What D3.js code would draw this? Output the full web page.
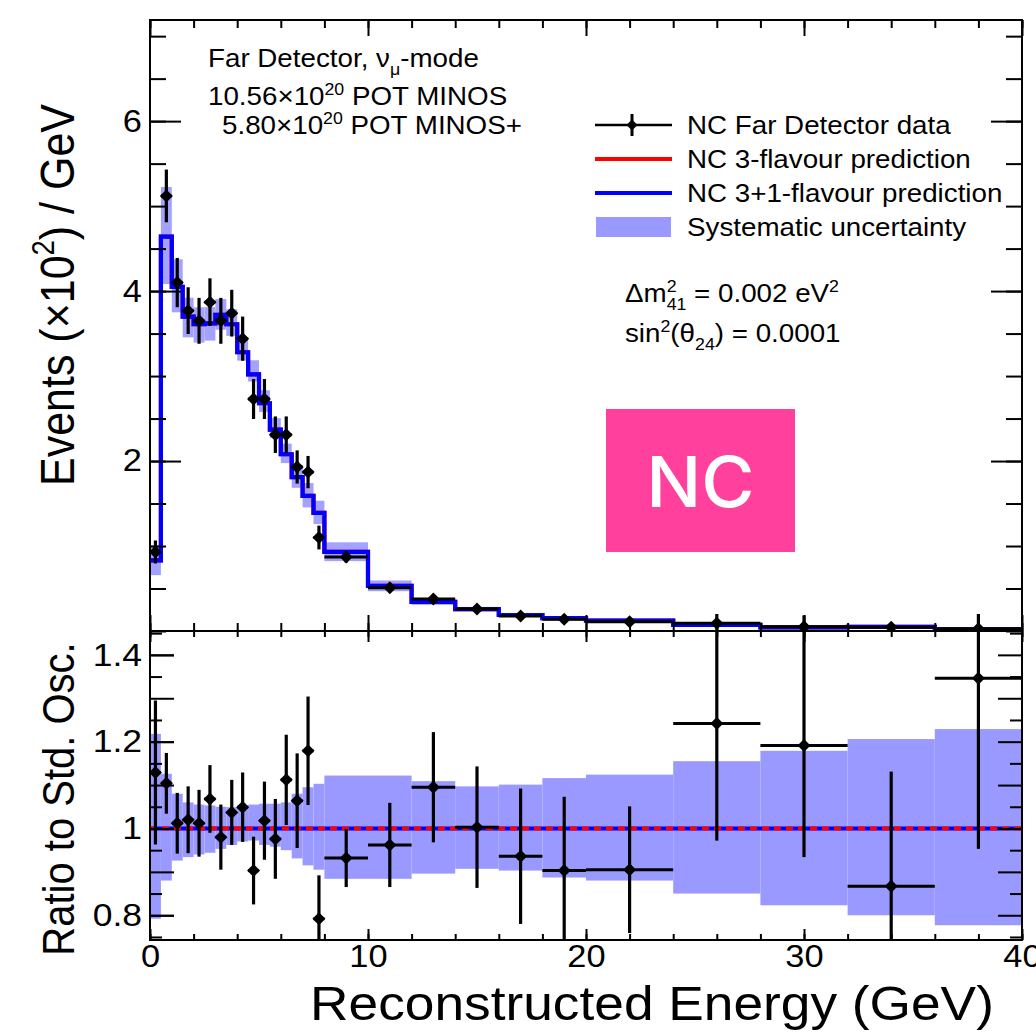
<!DOCTYPE html>
<html>
<head>
<meta charset="utf-8">
<script src="https://cdn.jsdelivr.net/npm/d3@7"></script>
<style>
  html, body { margin: 0; padding: 0; background: #fff; }
  svg { display: block; }
  text { font-family: "Liberation Sans", Arial, Helvetica, sans-serif; fill: #000; }
</style>
</head>
<body>
<svg id="chart" width="1036" height="1034"></svg>
<script>
// ---- Binning (reconstructed energy, GeV) ----
const binEdges = [0, 0.5, 1, 1.5, 2, 2.5, 3, 3.5, 4, 4.5, 5, 5.5, 6, 6.5, 7, 7.5, 8,
                  10, 12, 14, 16, 18, 20, 24, 28, 32, 36, 40];

// ---- NC Far Detector data, events (x10^2) / GeV ----
const dataValues = [0.93, 5.12, 4.10, 3.77, 3.65, 3.87, 3.65, 3.74, 3.44, 2.73, 2.73, 2.31, 2.31, 1.93, 1.87, 1.10,
                    0.87, 0.51, 0.376, 0.259, 0.176, 0.137, 0.11, 0.09, 0.05, 0.043, 0.027];
const dataErrors = [0.135, 0.31, 0.29, 0.275, 0.27, 0.28, 0.27, 0.275, 0.26, 0.235, 0.235, 0.215, 0.215, 0.195, 0.19, 0.14,
                    0.065, 0.05, 0.043, 0.036, 0.03, 0.026, 0.017, 0.015, 0.011, 0.01, 0.008];

// ---- NC prediction (3-flavour and 3+1 coincide at these parameters) ----
const predThreeFlavour = [0.83, 4.64, 4.05, 3.70, 3.61, 3.62, 3.72, 3.61, 3.28, 3.02, 2.68, 2.37, 2.08, 1.81, 1.59, 1.39,
                          0.93, 0.53, 0.343, 0.258, 0.188, 0.152, 0.121, 0.073, 0.042, 0.05, 0.02];
const predSterile = [0.83, 4.64, 4.05, 3.70, 3.61, 3.62, 3.72, 3.61, 3.28, 3.02, 2.68, 2.37, 2.08, 1.81, 1.59, 1.39,
                     0.93, 0.53, 0.343, 0.258, 0.188, 0.152, 0.121, 0.073, 0.042, 0.05, 0.02];

// ---- Systematic uncertainty, relative to the prediction ----
const systUpper = [1.218, 1.126, 1.080, 1.060, 1.055, 1.053, 1.050, 1.049, 1.049, 1.055, 1.057, 1.057, 1.060, 1.080, 1.095, 1.103,
                   1.122, 1.122, 1.109, 1.097, 1.101, 1.116, 1.124, 1.155, 1.179, 1.206, 1.229];
const systLower = [0.792, 0.880, 0.926, 0.934, 0.940, 0.944, 0.953, 0.962, 0.970, 0.972, 0.962, 0.958, 0.950, 0.931, 0.915, 0.905,
                   0.884, 0.884, 0.896, 0.907, 0.903, 0.887, 0.880, 0.850, 0.823, 0.800, 0.777];

// ---- Data / standard oscillation ratio ----
const ratioValues = [1.129, 1.104, 1.012, 1.020, 1.012, 1.068, 0.980, 1.037, 1.049, 0.903, 1.018, 0.976, 1.112, 1.064, 1.179, 0.792,
                     0.932, 0.962, 1.095, 1.003, 0.936, 0.903, 0.905, 1.242, 1.191, 0.867, 1.346];
const ratioErrUp   = [0.166, 0.070, 0.070, 0.077, 0.077, 0.078, 0.075, 0.075, 0.080, 0.078, 0.090, 0.092, 0.104, 0.109, 0.125, 0.100,
                      0.067, 0.097, 0.127, 0.140, 0.156, 0.170, 0.146, 0.300, 0.300, 0.264, 0.420];
const ratioErrDown = [0.166, 0.070, 0.070, 0.077, 0.077, 0.078, 0.075, 0.075, 0.080, 0.078, 0.090, 0.092, 0.104, 0.109, 0.125, 0.100,
                      0.067, 0.097, 0.127, 0.140, 0.156, 0.170, 0.146, 0.270, 0.257, 0.264, 0.393];

// ---- Axis ticks ----
const xMajorTicks = [0, 10, 20, 30, 40];
const xMinorTicks = d3.range(0, 40.01, 2);
const yTopLabels = [2, 4, 6];
const yTopMinor = d3.range(0, 7.2, 0.5);
const yRatioLabels = [0.8, 1, 1.2, 1.4];
const yRatioMajor = [0.8, 0.9, 1.0, 1.1, 1.2, 1.3, 1.4];
const yRatioMinor = [0.75, 0.85, 0.95, 1.05, 1.15, 1.25, 1.35, 1.45];

// ---- Layout ----
const SX = 1.11;                 // horizontal glyph stretch
const L = 150, R = 1022;
const topY0 = 20, midY = 631, botY1 = 940;
const BAND = "#9999ff", BLUE = "#0000ff", RED = "#ff0000";

const svg = d3.select("#chart");
const x = d3.scaleLinear().domain([0, 40]).range([L, R]);
const yTop = d3.scaleLinear().domain([0, 7.19]).range([midY, topY0]);
const yRat = d3.scaleLinear().domain([0.743, 1.455]).range([botY1, midY]);

const bins = dataValues.map((v, i) => ({
  lo: binEdges[i], hi: binEdges[i + 1], mid: (binEdges[i] + binEdges[i + 1]) / 2,
  data: v, err: dataErrors[i], p3: predThreeFlavour[i], p4: predSterile[i],
  sU: systUpper[i], sL: systLower[i],
  r: ratioValues[i], rU: ratioErrUp[i], rD: ratioErrDown[i]
}));

// clip regions
const defs = svg.append("defs");
defs.append("clipPath").attr("id", "clipTop")
  .append("rect").attr("x", L).attr("y", topY0).attr("width", R - L).attr("height", midY - topY0);
defs.append("clipPath").attr("id", "clipRat")
  .append("rect").attr("x", L).attr("y", 614).attr("width", R - L).attr("height", botY1 - 614);
defs.append("clipPath").attr("id", "clipRatBand")
  .append("rect").attr("x", L).attr("y", midY).attr("width", R - L).attr("height", botY1 - midY);

function diamond(cx, cy, r) {
  return `M${cx},${cy - r}L${cx + r},${cy}L${cx},${cy + r}L${cx - r},${cy}Z`;
}

function stepPath(values, yScale) {
  let d = "";
  values.forEach((v, i) => {
    const x0 = x(binEdges[i]), x1 = x(binEdges[i + 1]), yy = yScale(v);
    d += (i === 0 ? `M${x0},${yy}` : `L${x0},${yy}`) + `L${x1},${yy}`;
  });
  return d;
}

// ================= Upper panel =================
const gTop = svg.append("g").attr("clip-path", "url(#clipTop)");
gTop.selectAll("rect.band").data(bins).join("rect")
  .attr("x", d => x(d.lo)).attr("width", d => x(d.hi) - x(d.lo))
  .attr("y", d => yTop(d.p4 * d.sU)).attr("height", d => yTop(d.p4 * d.sL) - yTop(d.p4 * d.sU))
  .attr("fill", BAND).attr("fill-opacity", 0.9);
gTop.append("path").attr("d", stepPath(predThreeFlavour, yTop))
  .attr("fill", "none").attr("stroke", RED).attr("stroke-width", 4.2);
gTop.append("path").attr("d", stepPath(predSterile, yTop))
  .attr("fill", "none").attr("stroke", BLUE).attr("stroke-width", 4.2);

const topPts = gTop.selectAll("g.pt").data(bins).join("g");
topPts.append("line")
  .attr("x1", d => x(d.lo)).attr("x2", d => x(d.hi))
  .attr("y1", d => yTop(d.data)).attr("y2", d => yTop(d.data))
  .attr("stroke", "#000").attr("stroke-width", 3);
topPts.append("line")
  .attr("x1", d => x(d.mid)).attr("x2", d => x(d.mid))
  .attr("y1", d => yTop(d.data + d.err)).attr("y2", d => yTop(d.data - d.err))
  .attr("stroke", "#000").attr("stroke-width", 3.2);
topPts.append("path").attr("d", d => diamond(x(d.mid), yTop(d.data), 6.5)).attr("fill", "#000");

// ================= Ratio panel =================
const gBand = svg.append("g").attr("clip-path", "url(#clipRatBand)");
gBand.selectAll("rect").data(bins).join("rect")
  .attr("x", d => x(d.lo)).attr("width", d => x(d.hi) - x(d.lo))
  .attr("y", d => yRat(d.sU)).attr("height", d => yRat(d.sL) - yRat(d.sU))
  .attr("fill", BAND);
gBand.append("line").attr("x1", L).attr("x2", R).attr("y1", yRat(1)).attr("y2", yRat(1))
  .attr("stroke", BLUE).attr("stroke-width", 4);
gBand.append("line").attr("x1", L).attr("x2", R).attr("y1", yRat(1)).attr("y2", yRat(1))
  .attr("stroke", RED).attr("stroke-width", 4).attr("stroke-dasharray", "7,5");

const gRat = svg.append("g").attr("clip-path", "url(#clipRat)");
const ratPts = gRat.selectAll("g").data(bins).join("g");
ratPts.append("line")
  .attr("x1", d => x(d.lo)).attr("x2", d => x(d.hi))
  .attr("y1", d => yRat(d.r)).attr("y2", d => yRat(d.r))
  .attr("stroke", "#000").attr("stroke-width", 3);
ratPts.append("line")
  .attr("x1", d => x(d.mid)).attr("x2", d => x(d.mid))
  .attr("y1", d => Math.max(yRat(d.r + d.rU), 614)).attr("y2", d => Math.min(yRat(d.r - d.rD), botY1))
  .attr("stroke", "#000").attr("stroke-width", 3.2);
ratPts.append("path").attr("d", d => diamond(x(d.mid), yRat(d.r), 6.5)).attr("fill", "#000");

// ================= Frames and axes =================
function tickAxis(axis, tr, values, len, withLabels, fontSize, pad) {
  const a = axis.tickValues(values).tickSizeInner(-len).tickSizeOuter(0).tickPadding(pad || 6);
  if (!withLabels) a.tickFormat("");
  else a.tickFormat(d3.format("~g"));
  const g = svg.append("g").attr("transform", tr).call(a);
  g.select(".domain").remove();
  g.selectAll(".tick line").attr("stroke", "#000").attr("stroke-width", 2);
  g.selectAll(".tick text").attr("font-size", fontSize || 31)
    .attr("font-family", '"Liberation Sans", Arial, Helvetica, sans-serif').attr("fill", "#000");
  return g;
}
function stretchLabels(g) {
  g.selectAll(".tick text").each(function () {
    const t = d3.select(this);
    const tx = +t.attr("x") || 0, ty = +t.attr("y") || 0;
    t.attr("transform", `translate(${tx},${ty}) scale(${SX},1) translate(${-tx},${-ty})`);
  });
}

// upper panel
tickAxis(d3.axisLeft(yTop), `translate(${L},0)`, yTopMinor, 16, false);
stretchLabels(tickAxis(d3.axisLeft(yTop), `translate(${L},0)`, yTopLabels, 31, true, 31, 8));
tickAxis(d3.axisRight(yTop), `translate(${R},0)`, yTopMinor, 16, false);
tickAxis(d3.axisRight(yTop), `translate(${R},0)`, yTopLabels, 31, false);
tickAxis(d3.axisBottom(x), `translate(0,${midY})`, xMinorTicks, 8, false);
tickAxis(d3.axisBottom(x), `translate(0,${midY})`, xMajorTicks, 16, false);
tickAxis(d3.axisTop(x), `translate(0,${topY0})`, xMinorTicks, 8, false);
tickAxis(d3.axisTop(x), `translate(0,${topY0})`, xMajorTicks, 16, false);

// ratio panel
tickAxis(d3.axisLeft(yRat), `translate(${L},0)`, yRatioMinor, 12, false);
tickAxis(d3.axisLeft(yRat), `translate(${L},0)`, yRatioMajor, 24, false);
stretchLabels(tickAxis(d3.axisLeft(yRat), `translate(${L},0)`, yRatioLabels, 24, true, 32, 8));
tickAxis(d3.axisRight(yRat), `translate(${R},0)`, yRatioMinor, 12, false);
tickAxis(d3.axisRight(yRat), `translate(${R},0)`, yRatioMajor, 24, false);
tickAxis(d3.axisTop(x), `translate(0,${midY})`, xMinorTicks, 6, false);
tickAxis(d3.axisTop(x), `translate(0,${midY})`, xMajorTicks, 11, false);
tickAxis(d3.axisBottom(x), `translate(0,${botY1})`, xMinorTicks, 6, false);
stretchLabels(tickAxis(d3.axisBottom(x), `translate(0,${botY1})`, xMajorTicks, 11, true, 31, 5));

svg.append("rect").attr("x", L).attr("y", topY0).attr("width", R - L).attr("height", midY - topY0)
  .attr("fill", "none").attr("stroke", "#000").attr("stroke-width", 2);
svg.append("rect").attr("x", L).attr("y", midY).attr("width", R - L).attr("height", botY1 - midY)
  .attr("fill", "none").attr("stroke", "#000").attr("stroke-width", 2);

// ================= Text =================
// segments: plain string, or [text, "sup" | "sub" | "subS"]; "subS" stacks under the previous superscript
function rich(parent, transform, size, segs, anchor) {
  const t = parent.append("text").attr("transform", transform)
    .attr("font-size", size).attr("text-anchor", anchor || "start");
  let cur = 0, lastW = 0;
  segs.forEach(s => {
    const [str, kind] = typeof s === "string" ? [s, ""] : s;
    let shift = 0, fs = size;
    if (kind === "sup") { shift = -0.42 * size; fs = 0.64 * size; }
    else if (kind === "sub" || kind === "subS") { shift = 0.3 * size; fs = 0.64 * size; }
    const ts = t.append("tspan").attr("font-size", fs).attr("dy", shift - cur).text(str);
    if (kind === "subS") ts.attr("dx", -lastW);
    cur = shift;
    lastW = ts.node().getComputedTextLength();
  });
  return t;
}
const hs = (px, py) => `translate(${px},${py}) scale(${SX},1)`;

// axis titles
rich(svg, `translate(74,295) rotate(-90) scale(1,${SX})`, 43,
     ["Events (\u00d710", ["2", "sup"], ") / GeV"], "middle");
rich(svg, `translate(74,799) rotate(-90) scale(1,${SX})`, 40,
     ["Ratio to Std. Osc."], "middle");
rich(svg, hs(652, 1020), 48, ["Reconstructed Energy (GeV)"], "middle");

// exposure annotation
rich(svg, hs(208, 67), 25, ["Far Detector, \u03bd", ["\u03bc", "sub"], "-mode"]);
rich(svg, hs(208, 105), 25, ["10.56\u00d710", ["20", "sup"], " POT MINOS"]);
rich(svg, hs(222, 134), 25, ["5.80\u00d710", ["20", "sup"], " POT MINOS+"]);

// oscillation parameters
rich(svg, hs(625, 302), 25, ["\u0394m", ["2", "sup"], ["41", "subS"], " = 0.002 eV", ["2", "sup"]]);
rich(svg, hs(625, 342), 25, ["sin", ["2", "sup"], "(\u03b8", ["24", "sub"], ") = 0.0001"]);

// legend
const leg = svg.append("g");
const lx0 = 595, lx1 = 672, ltx = 687;
const legendRows = [
  { label: "NC Far Detector data", kind: "data", y: 125 },
  { label: "NC 3-flavour prediction", kind: "red", y: 159 },
  { label: "NC 3+1-flavour prediction", kind: "blue", y: 193 },
  { label: "Systematic uncertainty", kind: "band", y: 227 }
];
legendRows.forEach(r => {
  if (r.kind === "data") {
    leg.append("line").attr("x1", lx0).attr("x2", lx1).attr("y1", r.y).attr("y2", r.y)
      .attr("stroke", "#000").attr("stroke-width", 2.5);
    leg.append("line").attr("x1", 632).attr("x2", 632).attr("y1", r.y - 11).attr("y2", r.y + 11)
      .attr("stroke", "#000").attr("stroke-width", 3);
    leg.append("path").attr("d", diamond(632, r.y, 5.5)).attr("fill", "#000");
  } else if (r.kind === "band") {
    leg.append("rect").attr("x", lx0 + 1).attr("y", r.y - 10).attr("width", lx1 - lx0 - 2).attr("height", 20)
      .attr("fill", BAND);
  } else {
    leg.append("line").attr("x1", lx0).attr("x2", lx1).attr("y1", r.y).attr("y2", r.y)
      .attr("stroke", r.kind === "red" ? RED : BLUE).attr("stroke-width", 4);
  }
  rich(leg, hs(ltx, r.y + 9), 25, [r.label]);
});

// channel tag
svg.append("rect").attr("x", 606).attr("y", 409).attr("width", 189).attr("height", 143).attr("fill", "#ff409c");
rich(svg, `translate(700.5,507) scale(1.04,1)`, 70, ["NC"], "middle")
  .style("fill", "#fff").style("font-family", "Inter, Roboto, 'Liberation Sans', sans-serif").style("font-weight", 500);
</script>
</body>
</html>
